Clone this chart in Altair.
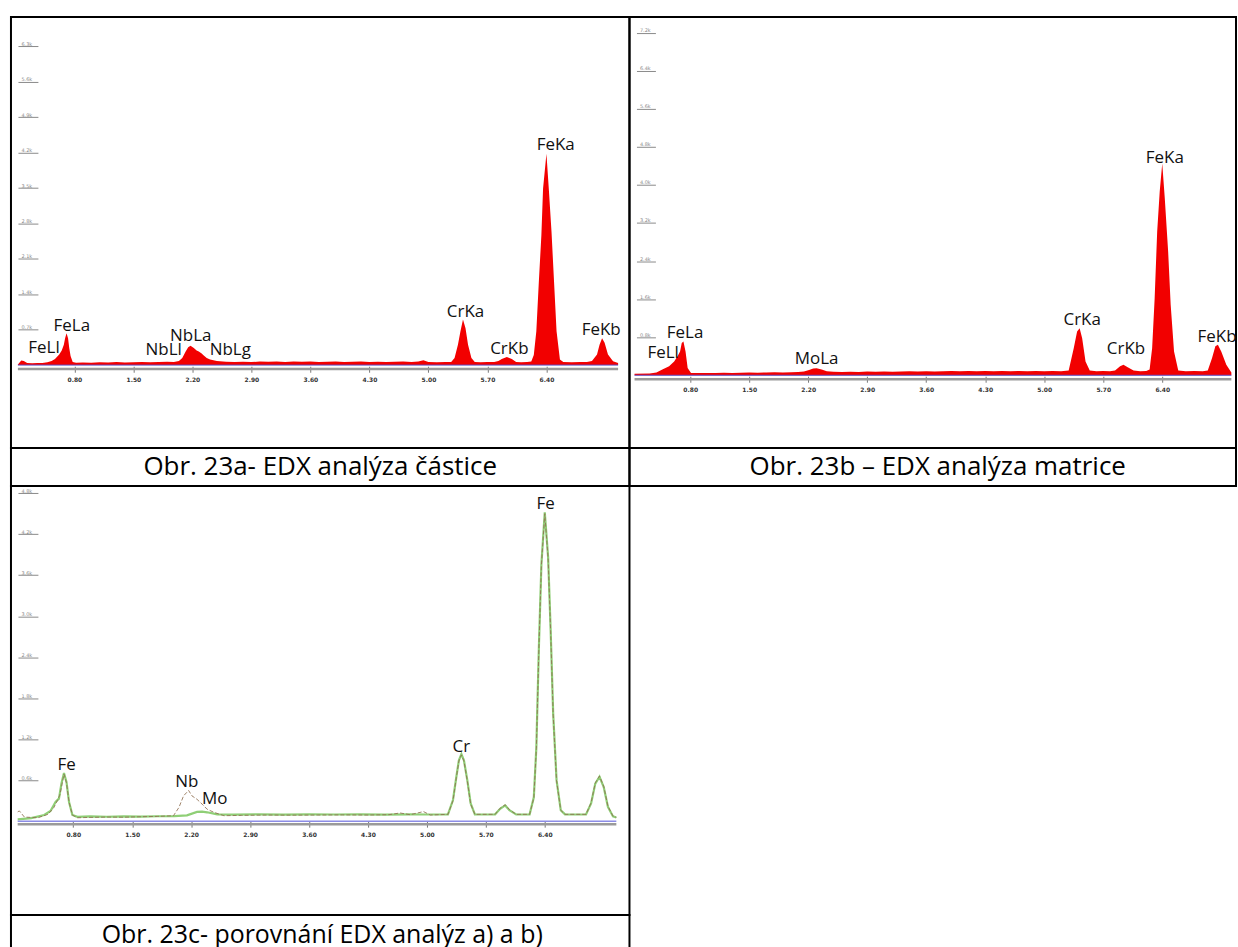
import altair as alt
import pandas as pd

# ---------------- data (energy keV, counts in thousands) ----------------
a_spectrum = [(0.13,0.01),(0.17,0.09),(0.20,0.08),(0.24,0.04),(0.30,0.035),(0.36,0.04),(0.42,0.04),(0.48,0.055),
    (0.53,0.08),(0.57,0.12),(0.62,0.21),(0.65,0.29),(0.675,0.40),(0.69,0.53),(0.707,0.63),(0.725,0.53),(0.74,0.33),
    (0.755,0.18),(0.78,0.06),(0.82,0.045),(0.90,0.05),(1.00,0.045),(1.10,0.055),(1.20,0.05),(1.30,0.06),(1.40,0.05),
    (1.50,0.055),(1.60,0.06),(1.70,0.055),(1.80,0.06),(1.90,0.065),(1.98,0.06),(2.04,0.08),(2.08,0.14),(2.12,0.27),
    (2.15,0.35),(2.178,0.38),(2.217,0.34),(2.25,0.29),(2.276,0.27),(2.31,0.23),(2.335,0.19),(2.37,0.14),(2.41,0.11),
    (2.49,0.08),(2.60,0.065),(2.70,0.06),(2.80,0.065),(2.90,0.06),(3.00,0.07),(3.10,0.065),(3.20,0.07),(3.30,0.06),
    (3.40,0.07),(3.50,0.065),(3.60,0.07),(3.70,0.06),(3.80,0.065),(3.90,0.07),(4.00,0.06),(4.10,0.065),(4.20,0.07),
    (4.30,0.06),(4.40,0.065),(4.50,0.06),(4.60,0.065),(4.70,0.07),(4.80,0.06),(4.88,0.07),(4.94,0.095),(5.00,0.06),
    (5.10,0.055),(5.20,0.06),(5.27,0.06),(5.31,0.14),(5.35,0.40),(5.38,0.67),(5.41,0.90),(5.44,0.73),(5.47,0.40),
    (5.51,0.14),(5.55,0.06),(5.62,0.055),(5.70,0.06),(5.78,0.06),(5.83,0.08),(5.87,0.12),(5.93,0.16),(5.99,0.12),
    (6.04,0.06),(6.10,0.055),(6.17,0.06),(6.22,0.07),(6.25,0.20),(6.28,0.67),(6.31,1.65),(6.34,2.57),(6.36,3.49),
    (6.40,4.18),(6.43,3.43),(6.46,2.64),(6.49,1.65),(6.52,0.67),(6.56,0.11),(6.60,0.06),(6.70,0.055),(6.80,0.06),
    (6.88,0.06),(6.94,0.08),(7.00,0.21),(7.03,0.40),(7.06,0.53),(7.09,0.44),(7.13,0.21),(7.19,0.075),(7.25,0.04)]

b_spectrum = [(0.14,0.03),(0.32,0.035),(0.40,0.06),(0.47,0.12),(0.55,0.19),(0.61,0.29),(0.65,0.40),(0.68,0.50),
    (0.70,0.68),(0.72,0.71),(0.745,0.50),(0.77,0.15),(0.81,0.05),(0.90,0.045),(1.0,0.05),(1.1,0.045),(1.2,0.055),
    (1.3,0.05),(1.4,0.055),(1.5,0.06),(1.6,0.055),(1.7,0.06),(1.8,0.065),(1.9,0.06),(2.0,0.065),(2.08,0.07),
    (2.15,0.08),(2.21,0.11),(2.26,0.14),(2.30,0.145),(2.36,0.12),(2.42,0.085),(2.5,0.075),(2.6,0.07),(2.7,0.075),
    (2.8,0.07),(2.9,0.08),(3.0,0.075),(3.1,0.08),(3.2,0.075),(3.3,0.08),(3.4,0.085),(3.5,0.08),(3.6,0.085),
    (3.7,0.08),(3.8,0.085),(3.9,0.09),(4.0,0.085),(4.1,0.09),(4.2,0.085),(4.3,0.09),(4.4,0.085),(4.5,0.09),
    (4.6,0.085),(4.7,0.09),(4.8,0.085),(4.9,0.09),(5.0,0.085),(5.1,0.09),(5.2,0.085),(5.29,0.10),(5.35,0.57),
    (5.39,0.92),(5.42,0.99),(5.45,0.78),(5.49,0.29),(5.54,0.10),(5.62,0.085),(5.7,0.09),(5.78,0.085),(5.84,0.10),
    (5.90,0.19),(5.94,0.22),(5.99,0.17),(6.06,0.10),(6.14,0.085),(6.21,0.09),(6.25,0.12),(6.28,0.57),(6.31,1.62),
    (6.34,3.02),(6.37,3.86),(6.40,4.45),(6.43,3.72),(6.47,2.60),(6.50,1.48),(6.54,0.50),(6.59,0.10),(6.68,0.085),
    (6.78,0.09),(6.88,0.085),(6.94,0.10),(6.99,0.36),(7.03,0.61),(7.06,0.64),(7.10,0.50),(7.16,0.22),(7.22,0.06)]

c_matrix = [(0.14,0.025),(0.30,0.045),(0.455,0.09),(0.53,0.15),(0.59,0.28),(0.63,0.33),(0.66,0.55),(0.69,0.705),
    (0.72,0.57),(0.75,0.28),(0.79,0.09),(0.85,0.063),(1.0,0.07),(1.2,0.065),(1.4,0.07),(1.6,0.068),(1.8,0.072),
    (2.0,0.075),(2.15,0.085),(2.27,0.136),(2.33,0.14),(2.39,0.13),(2.51,0.10),(2.7,0.095),(3.0,0.1),(3.3,0.095),
    (3.6,0.1),(3.9,0.098),(4.2,0.1),(4.5,0.095),(4.8,0.1),(5.0,0.098),(5.25,0.1),(5.31,0.31),(5.35,0.65),(5.38,0.89),
    (5.41,0.98),(5.44,0.89),(5.48,0.60),(5.52,0.26),(5.57,0.10),(5.7,0.098),(5.81,0.10),(5.87,0.18),(5.93,0.23),
    (5.98,0.16),(6.06,0.10),(6.15,0.098),(6.22,0.10),(6.27,0.35),(6.30,1.08),(6.33,2.54),(6.36,3.76),(6.40,4.52),
    (6.44,3.86),(6.47,2.79),(6.50,1.57),(6.54,0.60),(6.59,0.16),(6.64,0.10),(6.75,0.098),(6.89,0.10),(6.95,0.26),
    (7.00,0.55),(7.05,0.65),(7.10,0.50),(7.15,0.21),(7.21,0.07),(7.25,0.054)]

c_particle = [(0.14,0.136),(0.16,0.15),(0.22,0.06),(0.38,0.05),(0.50,0.10),(0.57,0.20),(0.61,0.30),(0.64,0.38),
    (0.66,0.50),(0.69,0.69),(0.72,0.56),(0.75,0.28),(0.79,0.09),(0.85,0.05),(1.0,0.055),(1.2,0.06),(1.4,0.058),
    (1.6,0.065),(1.8,0.07),(1.99,0.08),(2.055,0.20),(2.11,0.37),(2.17,0.45),(2.21,0.37),(2.27,0.32),(2.33,0.25),
    (2.39,0.175),(2.47,0.13),(2.59,0.08),(2.8,0.085),(3.1,0.09),(3.4,0.088),(3.7,0.09),(4.0,0.092),(4.3,0.09),
    (4.55,0.095),(4.68,0.12),(4.8,0.095),(4.96,0.14),(5.04,0.09),(5.25,0.10),(5.31,0.30),(5.35,0.64),(5.38,0.88),
    (5.41,0.97),(5.44,0.88),(5.48,0.59),(5.52,0.25),(5.57,0.10),(5.81,0.10),(5.87,0.19),(5.93,0.24),(5.98,0.17),
    (6.06,0.10),(6.22,0.10),(6.27,0.34),(6.30,1.06),(6.33,2.52),(6.36,3.75),(6.40,4.50),(6.44,3.84),(6.47,2.77),
    (6.50,1.55),(6.54,0.59),(6.59,0.16),(6.64,0.10),(6.89,0.10),(6.95,0.27),(7.00,0.56),(7.05,0.66),(7.10,0.51),
    (7.15,0.22),(7.21,0.075),(7.25,0.055)]

a_labels = [("FeLl",0.44,0.33),("FeLa",0.77,0.77),("NbLl",1.86,0.29),("NbLa",2.18,0.57),("NbLg",2.65,0.29),
            ("CrKa",5.44,1.04),("CrKb",5.96,0.31),("FeKa",6.51,4.36),("FeKb",7.05,0.69)]
b_labels = [("FeLl",0.48,0.47),("FeLa",0.74,0.88),("MoLa",2.30,0.35),("CrKa",5.45,1.17),("CrKb",5.97,0.56),
            ("FeKa",6.43,4.57),("FeKb",7.05,0.80)]
c_labels = [("Fe",0.72,0.82),("Nb",2.15,0.57),("Mo",2.48,0.32),("Cr",5.41,1.09),("Fe",6.41,4.64)]

x_ticks = [0.8, 1.5, 2.2, 2.9, 3.6, 4.3, 5.0, 5.7, 6.4]
a_y_ticks = [0.7, 1.4, 2.1, 2.8, 3.5, 4.2, 4.9, 5.6, 6.3]
b_y_ticks = [0.8, 1.6, 2.4, 3.2, 4.0, 4.8, 5.6, 6.4, 7.2]
c_y_ticks = [0.6, 1.2, 1.8, 2.4, 3.0, 3.6, 4.2, 4.8]

captions = ["Obr. 23a- EDX analýza částice", "Obr. 23b \u2013 EDX analýza matrice",
            "Obr. 23c- porovnání EDX analýz a) a b)"]

FONT = "Open Sans"


def to_df(pairs, series):
    return pd.DataFrame({"E": [p[0] for p in pairs], "cnt": [p[1] for p in pairs], "s": series})


def labels_df(items):
    return pd.DataFrame({"t": [i[0] for i in items], "E": [i[1] for i in items], "cnt": [i[2] for i in items]})


def panel(series, labels, xdom, ydom, yticks, w, h, x_off, y_off, ytick_size, gray_off, base_color, base_w, kind):
    xs = alt.Scale(domain=xdom, nice=False, zero=False)
    ys = alt.Scale(domain=ydom, nice=False, zero=False)
    x_axis = alt.Axis(values=x_ticks, labelExpr="format(datum.value, '.2f')", domain=False, grid=False,
                      tickSize=6, tickColor="#777777", tickWidth=1, labelFont="DejaVu Sans",
                      labelFontWeight="bold", labelFontSize=6, labelColor="#333333", labelPadding=4,
                      offset=x_off, title=None, orient="bottom", labelFlush=False, labelOverlap=False)
    y_axis = alt.Axis(values=yticks, labelExpr="format(datum.value, '.1f') + 'k'", domain=False, grid=False,
                      tickSize=ytick_size, tickColor="#8a8a8a", tickWidth=1, labelFont="DejaVu Sans",
                      labelFontSize=5, labelColor="#8a8a8a", labelAlign="left", labelBaseline="alphabetic",
                      labelPadding=-3, labelOffset=-1, offset=y_off, title=None, orient="left",
                      labelFlush=False, labelOverlap=False)
    X = lambda f: alt.X(f, scale=xs, axis=x_axis)
    Y = lambda f: alt.Y(f, scale=ys, axis=y_axis)
    layers = []
    first = series[0]
    if kind == "area":
        main = alt.Chart(first).mark_area(color="#f20000", interpolate="linear").encode(
            x=X("E:Q"), y=Y("cnt:Q"), y2=alt.datum(0))
        layers.append(main)
    else:
        green = alt.Chart(series[0]).mark_line(color="#8fcf76", strokeWidth=2.2).encode(
            x=X("E:Q"), y=Y("cnt:Q"))
        brown = alt.Chart(series[1]).mark_line(color="#8f6f50", strokeWidth=1, opacity=0.85,
                                               strokeDash=[4, 2]).encode(
            x=X("E:Q"), y=Y("cnt:Q"))
        layers += [green, brown]
    base_rule = alt.Chart(first).mark_rule(color=base_color, strokeWidth=base_w).encode(
        x=X("min(E):Q"), x2="max(E):Q", y=alt.datum(0))
    gray_rule = alt.Chart(first).mark_rule(color="#9a9a9a", strokeWidth=2.5, yOffset=gray_off).encode(
        x=X("min(E):Q"), x2="max(E):Q", y=alt.datum(0))
    text = alt.Chart(labels).mark_text(font=FONT, fontSize=17, color="#111111", align="center",
                                       baseline="middle").encode(
        x=X("E:Q"), y=Y("cnt:Q"), text="t:N")
    layers += [base_rule, gray_rule, text]
    return alt.layer(*layers).properties(width=w, height=h)


RIGHT_W = 608

pa = panel([to_df(a_spectrum, "a")], labels_df(a_labels), [0.0479, 7.385], [-1.641, 6.88], a_y_ticks,
           620, 432, -82, -27, 20, 4, "#5b4bc4", 1, "area")
pb = panel([to_df(b_spectrum, "b")], labels_df(b_labels), [0.0799, 7.275], [-1.530, 7.526], b_y_ticks,
           RIGHT_W, 432, -72, -26, 19, 4, "#5b4bc4", 1, "area")
pc = panel([to_df(c_matrix, "matrix"), to_df(c_particle, "particle")], labels_df(c_labels),
           [0.0604, 7.406], [-1.372, 4.905], c_y_ticks, 620, 430, -94, -27, 20, 3, "#8c8ce6", 1.5, "line")


def caption(txt, w, h, cx, cy, size):
    return alt.Chart(pd.DataFrame({"t": [txt]})).mark_text(
        font=FONT, fontSize=size, color="#000000", align="center", baseline="middle").encode(
        text="t:N", x=alt.value(cx), y=alt.value(cy)).properties(width=w, height=h)


def empty(w, h):
    return alt.Chart(pd.DataFrame({"v": [0]})).mark_point(opacity=0).encode(
        x=alt.value(0), y=alt.value(0)).properties(width=w, height=h, view=alt.ViewBackground(strokeOpacity=0))


capA = caption(captions[0], 620, 38, 310, 19, 26)
capB = caption(captions[1], RIGHT_W, 38, 309, 19, 26)
capC = caption(captions[2], 620, 34, 312, 20, 25)

chart = alt.concat(pa, pb, capA, capB, pc, empty(RIGHT_W, 430), capC, empty(RIGHT_W, 34),
                   columns=2, spacing=0, bounds="flush", align="each").properties(
    padding={"left": 10, "top": 15, "right": 0, "bottom": 0},
    background="white"
).configure_view(stroke="black", strokeWidth=2)

chart.save("out.html", embed_options={"renderer": "svg", "actions": False})
